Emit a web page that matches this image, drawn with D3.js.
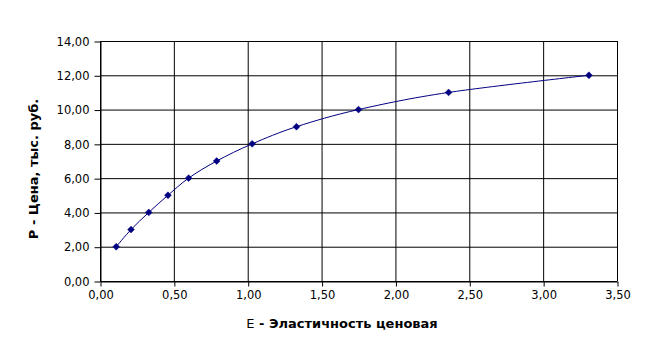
<!DOCTYPE html>
<html><head><meta charset="utf-8">
<script src="https://cdn.jsdelivr.net/npm/d3@7"></script>
<style>body{margin:0;background:#fff}svg{display:block}text{font-family:"DejaVu Sans",sans-serif}</style>
</head><body><svg id="c" width="656" height="352"></svg>
<script>
const elasticity = [0.11, 0.21, 0.33, 0.46, 0.60, 0.79, 1.03, 1.33, 1.75, 2.36, 3.31];
const price = [2, 3, 4, 5, 6, 7, 8, 9, 10, 11, 12];
const xTicks = [0, 0.5, 1, 1.5, 2, 2.5, 3, 3.5];
const yTicks = [0, 2, 4, 6, 8, 10, 12, 14];
const xTitleA = "E";
const xTitleB = " - Эластичность ценовая";
const yTitle = "P - Цена, тыс. руб.";

const svg = d3.select("#c");
const m = {l: 100, r: 617, t: 41, b: 281};
const x = d3.scaleLinear().domain([0, 3.5]).range([m.l, m.r]);
const y = d3.scaleLinear().domain([0, 14]).range([m.b, m.t]);
const fmt = d => d3.format(".2f")(d).replace(".", ",");

svg.append("g").selectAll("line").data(yTicks).join("line")
  .attr("x1", m.l).attr("x2", m.r).attr("y1", d => y(d) + 0.5).attr("y2", d => y(d) + 0.5)
  .attr("stroke", "#000");
svg.append("g").selectAll("line").data(xTicks).join("line")
  .attr("y1", m.t).attr("y2", m.b).attr("x1", d => x(d) + 0.5).attr("x2", d => x(d) + 0.5)
  .attr("stroke", "#000");

const ya = svg.append("g").attr("transform", `translate(${m.l + 0.5},0.5)`)
  .call(d3.axisLeft(y).tickValues(yTicks).tickFormat(fmt).tickSize(6).tickSizeOuter(0));
const xa = svg.append("g").attr("transform", `translate(0.5,${m.b + 0.5})`)
  .call(d3.axisBottom(x).tickValues(xTicks).tickFormat(fmt).tickSize(5).tickSizeOuter(0));
[ya, xa].forEach(a => {
  a.selectAll("path,line").attr("stroke", "#000");
  a.selectAll("text").attr("font-size", 11.5).attr("fill", "#000").attr("font-family", "DejaVu Sans");
});
ya.selectAll("text").attr("x", -11);
xa.selectAll("text").attr("y", 9);

const pts = elasticity.map((e, i) => [e, price[i]]);
svg.append("path").datum(pts)
  .attr("d", d3.line().x(d => x(d[0])).y(d => y(d[1])).curve(d3.curveCardinal.tension(0)))
  .attr("fill", "none").attr("stroke", "#000080").attr("stroke-width", 1);
svg.append("g").selectAll("path").data(pts).join("path")
  .attr("d", d3.symbol(d3.symbolDiamond2, 30))
  .attr("transform", d => `translate(${x(d[0])},${y(d[1])})`)
  .attr("fill", "#000080").attr("stroke", "#000080").attr("stroke-width", 0.5);

const xt = svg.append("text").attr("x", 342).attr("y", 328).attr("text-anchor", "middle")
  .attr("font-size", 13).attr("font-weight", "bold");
xt.append("tspan").attr("font-weight", "normal").text(xTitleA);
xt.append("tspan").text(xTitleB);
svg.append("text").attr("transform", `translate(38,169) rotate(-90)`)
  .attr("text-anchor", "middle").attr("font-size", 13).attr("font-weight", "bold").text(yTitle);
</script></body></html>
